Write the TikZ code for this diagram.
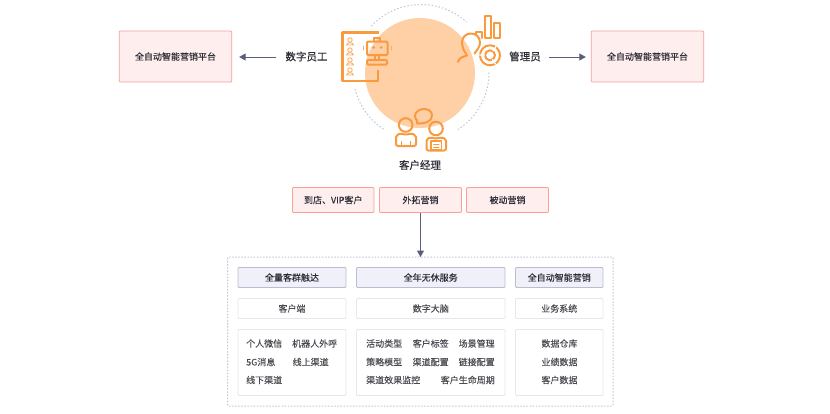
\documentclass[tikz,border=0pt]{standalone}
\usepackage{fontspec}
\setmainfont[FakeBold=0.05]{Noto Sans CJK SC}
\newfontfamily\labelfont[FakeBold=0.3]{Noto Sans CJK SC}
\usetikzlibrary{arrows.meta}
\definecolor{ink}{HTML}{2B2C34}
\definecolor{arrowc}{HTML}{5A5E78}
\definecolor{pinkline}{HTML}{FB9E9C}
\definecolor{pinkfill}{HTML}{FFEEEE}
\definecolor{orangeL}{HTML}{F99A3E}
\definecolor{discc}{HTML}{FFD0A6}
\definecolor{dashc}{HTML}{C4C6D6}
\definecolor{headfill}{HTML}{F0F1F8}
\definecolor{headline}{HTML}{B9BCD2}
\definecolor{softline}{HTML}{E6E7EE}
\tikzset{
  x=1pt,y=-1pt,
  pinkbox/.style={draw=pinkline,fill=pinkfill,line width=.9pt,rounded corners=1pt,minimum height=25pt,inner sep=0pt,font=\fontsize{9}{11}\selectfont,text=ink},
  headbox/.style={draw=headline,fill=headfill,line width=.8pt,rounded corners=1pt,minimum height=20pt,inner sep=0pt,font=\fontsize{9}{11}\selectfont,text=ink},
  softbox/.style={draw=softline,fill=white,line width=.8pt,rounded corners=1pt,minimum height=20pt,inner sep=0pt,font=\fontsize{9}{11}\selectfont,text=ink!85!white},
  listbox/.style={draw=softline,fill=white,line width=.8pt,rounded corners=1pt,inner sep=0pt},
  item/.style={inner sep=0pt,font=\fontsize{9}{11}\selectfont,text=ink!85!white,anchor=west},
  bigtext/.style={inner sep=0pt,font=\labelfont\fontsize{10.5}{12}\selectfont,text=ink},
  flow/.style={draw=arrowc,line width=1pt,-{Triangle[length=6.5pt,width=7pt]}},
  ic/.style={draw=orangeL,line width=2pt,line cap=round,line join=round},
  icthin/.style={draw=orangeL!80!white,line width=.9pt,line cap=round,line join=round},
  dots/.style={dashc,line width=1pt,dash pattern=on 1.5pt off 2pt},
}
\begin{document}
\begin{tikzpicture}
\useasboundingbox (0,0) rectangle (830,413);
\fill[white] (0,0) rectangle (830,413);
% circles
\fill[discc] (420,73) circle[radius=55];
\coordinate (cc) at (421,72.5);
\draw[dots] ([shift={(-137:68)}]cc) arc[start angle=-137,end angle=-48,radius=68];
\draw[dots] ([shift={(0:68)}]cc) arc[start angle=0,end angle=57,radius=68];
\draw[dots] ([shift={(166:68)}]cc) arc[start angle=166,end angle=122,radius=68];
% document + robot icon
\draw[ic,line width=2.3pt,line cap=butt] (378.5,32.5) -- (342.5,32.5) -- (342.5,81) -- (378,81) -- (378,70);
\foreach \yy in {41,51,61,71}{
  \draw[icthin] (350,\yy-1) circle[radius=2.2];
  \draw[icthin] (346.5,\yy+4) .. controls (347,\yy+1) and (353,\yy+1) .. (353.5,\yy+4) -- cycle;
}
\draw[ic,rounded corners=1pt] (367,41.5) rectangle (387.5,55);
\draw[ic] (374,41) -- (374,38) -- (380,38) -- (380,41);
\draw[ic,line width=1.5pt] (375,55) -- (375,60) (379,55) -- (379,60);
\draw[ic,rounded corners=1pt] (367,60) rectangle (387,64.5);
\fill[orangeL] (373.5,47.5) circle[radius=1.5] (381,47.5) circle[radius=1.5];
\draw[icthin] (363,46) -- (363,50) (391,46) -- (391,50);
% manager icon
\draw[ic] (475.5,35) -- (475.5,31.5) -- (481.5,31.5) -- (481.5,38);
\draw[ic] (484.5,38) -- (484.5,15.5) -- (490.5,15.5) -- (490.5,38) -- cycle;
\draw[ic] (494,38) -- (494,22.5) -- (500,22.5) -- (500,38) -- cycle;
\draw[ic] (458,62) .. controls (459,58) and (462,57) .. (467,55.5) .. controls (464,51) and (462,47) .. (462,42.5) .. controls (462,37) and (466,33.5) .. (471,33.5) .. controls (476,33.5) and (480,37) .. (480,42.5) .. controls (480,47) and (477,50) .. (474.5,53.5);
\draw[ic] (490,55.3) circle[radius=10];
\draw[ic] (490,55.3) circle[radius=5];
\draw[ic,draw=white,line width=1.2pt] (484.5,55) -- (479.5,55) (493,51) -- (496,46.5) (492.5,59.5) -- (495.5,64);
% customer managers
\draw[ic] (405.7,125) circle[radius=6.8];
\draw[ic,rounded corners=2pt] (396,146) -- (396,139) .. controls (396,135.5) and (399,134) .. (401.5,133) .. controls (404,134.5) and (408,134.5) .. (410.5,133) .. controls (413,134) and (416,135.5) .. (416,139) -- (416,146) -- cycle;
\draw[ic,line width=1.5pt] (401.5,146) -- (401.5,141.5) (410.5,146) -- (410.5,141.5);
\draw[ic] (436,128.5) circle[radius=6.8];
\draw[ic,rounded corners=2pt] (426.5,150.5) -- (426.5,143) .. controls (426.5,139) and (429,138) .. (431.5,137) .. controls (434,138.5) and (438,138.5) .. (441,137) .. controls (443.5,138) and (446,139) .. (446,143) -- (446,150.5) -- cycle;
\draw[ic,line width=1.2pt] (431,141) rectangle (441.5,150);
\draw[ic,line width=1pt] (433.5,144) -- (439,144) (433.5,147) -- (439,147);
\draw[ic] (417,123.5) .. controls (424,124) and (432,122) .. (432,115.5) .. controls (432,111) and (428,109) .. (424,109) .. controls (419,109) and (415,112) .. (415,116) .. controls (415,118) and (416,119.5) .. (417,120.5) -- cycle;
% title labels
\node[bigtext] (cust) at (420,165) {客户经理};
\node[bigtext] (digi) at (306.5,56.5) {数字员工};
\node[bigtext] (mgr) at (525,56.5) {管理员};
% top platform boxes
\node[pinkbox,minimum width=112.5pt,minimum height=51pt] (pl) at (175.5,56.5) {全自动智能营销平台};
\node[pinkbox,minimum width=112.5pt,minimum height=51pt] (pr) at (647.5,56.5) {全自动智能营销平台};
\draw[flow] ([shift={(-9,0.5)}]digi.west) -- ([shift={(7,0.5)}]pl.east);
\draw[flow] ([shift={(8,0.5)}]mgr.east) -- ([shift={(-5,0.5)}]pr.west);
% three channel boxes
\node[pinkbox,minimum width=81.5pt] (b1) at (333.25,200) {到店、VIP客户};
\node[pinkbox,minimum width=82pt] (b2) at (420.5,200) {外拓营销};
\node[pinkbox,minimum width=82pt] (b3) at (507.5,200) {被动营销};
% outer frame
\draw[dots,dash pattern=on 1.5pt off 1.6pt,rounded corners=1pt] (227.5,257) rectangle (613,406);
\coordinate (frametop) at (420.5,257);
\draw[flow] (b2.south) -- (frametop);
% columns
\node[headbox,minimum width=108pt] (h1) at (292,277.5) {全量客群触达};
\node[headbox,minimum width=148.5pt] (h2) at (430.75,277.5) {全年无休服务};
\node[headbox,minimum width=87.5pt] (h3) at (559.25,277.5) {全自动智能营销};
\node[softbox,minimum width=108pt] (s1) at (292,308.5) {客户端};
\node[softbox,minimum width=148.5pt] (s2) at (430.75,308.5) {数字大脑};
\node[softbox,minimum width=87.5pt] (s3) at (559.25,308.5) {业务系统};
\node[listbox,minimum width=108pt,minimum height=66pt] (l1) at (292,362.5) {};
\node[listbox,minimum width=148.5pt,minimum height=66pt] (l2) at (430.75,362.5) {};
\node[listbox,minimum width=87.5pt,minimum height=66pt] (l3) at (559.25,362.5) {};
\node[item] (i1) at (246,343.5) {个人微信};
\node[item] (i2) at (292,343.5) {机器人外呼};
\node[item] (i3) at (246,362) {5G消息};
\node[item] (i4) at (292.5,362) {线上渠道};
\node[item] (i5) at (246,380) {线下渠道};
\node[item] (m1) at (366,343.5) {活动类型};
\node[item] (m2) at (412.5,343.5) {客户标签};
\node[item] (m3) at (458.5,343.5) {场景管理};
\node[item] (m4) at (366,362) {策略模型};
\node[item] (m5) at (412.5,362) {渠道配置};
\node[item] (m6) at (458.5,362) {链接配置};
\node[item] (m7) at (366,380) {渠道效果监控};
\node[item,anchor=east] (m8) at (495,380) {客户生命周期};
\node[item,anchor=center] (r1) at (559.5,343.5) {数据仓库};
\node[item,anchor=center] (r2) at (559.5,362) {业绩数据};
\node[item,anchor=center] (r3) at (559.5,380) {客户数据};
\end{tikzpicture}
\end{document}
